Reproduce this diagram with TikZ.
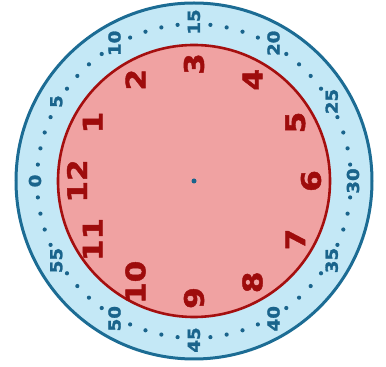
\documentclass[tikz,border=0pt]{standalone}
\usepackage{fontspec}
\setmainfont{DejaVu Sans}
\newfontfamily\heavyfont{DejaVu Sans}[BoldFeatures={FakeBold=1.6}]
\definecolor{rimfill}{RGB}{196,232,246}
\definecolor{rimline}{RGB}{28,108,148}
\definecolor{facefill}{RGB}{240,162,162}
\definecolor{faceline}{RGB}{165,15,15}
\definecolor{hourcol}{RGB}{158,12,12}
\definecolor{mincol}{RGB}{26,100,140}
\tikzset{
  rimdisc/.style={circle, draw=rimline, fill=rimfill, line width=3pt, inner sep=0pt, minimum size=356pt},
  facedisc/.style={circle, draw=faceline, fill=facefill, line width=2.6pt, inner sep=0pt, minimum size=272pt},
  hourlabel/.style={text=hourcol, font=\heavyfont\fontsize{27}{27}\selectfont\bfseries, rotate=90, inner sep=0pt},
  minlabel/.style={text=mincol, font=\heavyfont\fontsize{16.5}{16.5}\selectfont\bfseries, rotate=90, inner sep=0pt},
  mindot/.style={circle, fill=mincol, inner sep=0pt, minimum size=4.2pt},
  hubdot/.style={circle, fill=mincol, inner sep=0pt, minimum size=5pt}
}
\begin{document}
\begin{tikzpicture}[x=1pt,y=1pt]
\useasboundingbox (0,0) rectangle (386,367);
\coordinate (c) at (194,186);
\node[rimdisc] (rim) at (c) {};
\node[facedisc] (face) at (c) {};
\foreach \m in {0,...,59} {
  \pgfmathtruncatemacro\r{mod(\m,5)}
  \ifnum\r=0
    \node[minlabel] (m\m) at ([shift={(180-6*\m:159)}]c) {\scalebox{1.1}[1]{\m}};
  \else
    \node[mindot] (d\m) at ([shift={(180-6*\m:157)}]c) {};
  \fi
}
\foreach \h in {1,...,12} {
  \node[hourlabel] (h\h) at ([shift={(180-30*\h:117)}]c) {\scalebox{1.15}[1]{\h}};
}
\node[hubdot] (hub) at (c) {};
\end{tikzpicture}
\end{document}
